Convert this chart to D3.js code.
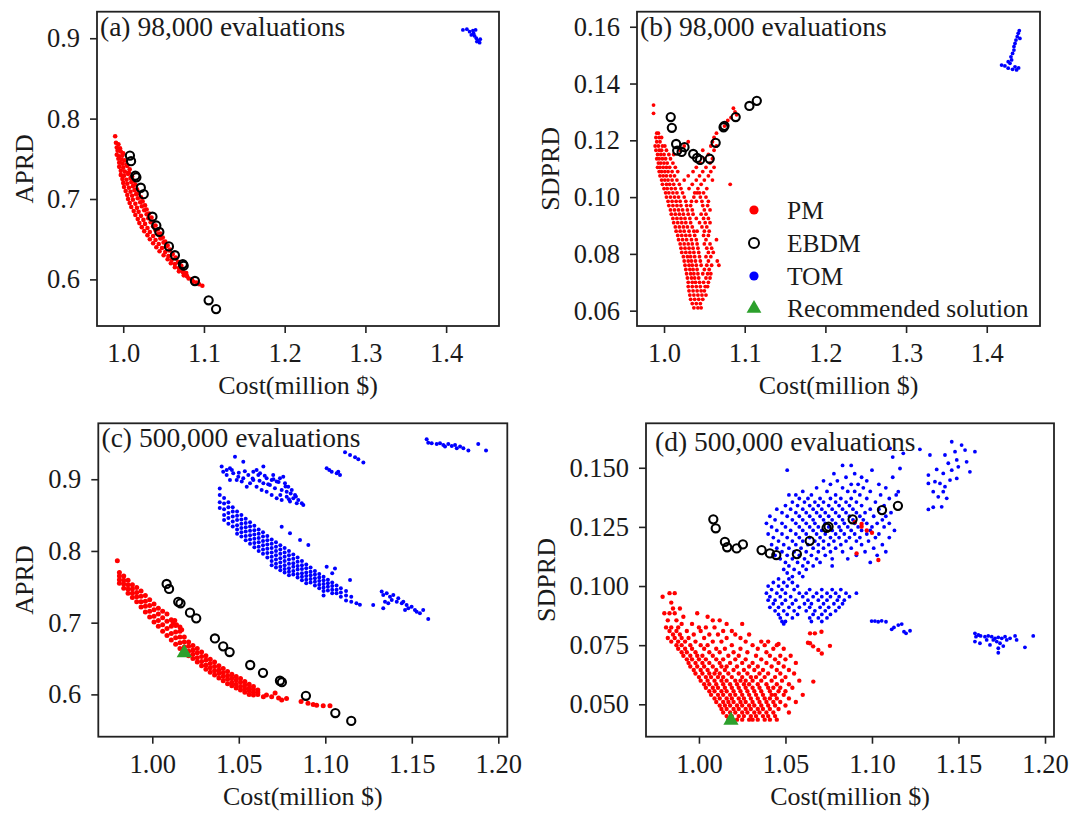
<!DOCTYPE html>
<html>
<head>
<meta charset="utf-8">
<script src="https://cdn.jsdelivr.net/npm/d3@7"></script>
<style>
  body { margin: 0; background: #fff; }
  svg { display: block; }
  text { font-family: "Liberation Serif", "Times New Roman", serif; fill: #1a1a1a; }
</style>
</head>
<body>
<div id="chart"></div>
<script>
// ---------- data ----------

// tick labels
var costTicksTop = [1.0, 1.1, 1.2, 1.3, 1.4];
var costTicksBottom = [1.00, 1.05, 1.10, 1.15, 1.20];
var aprdTicks = [0.6, 0.7, 0.8, 0.9];
var sdprdTicksTop = [0.06, 0.08, 0.10, 0.12, 0.14, 0.16];
var sdprdTicksBottom = [0.050, 0.075, 0.100, 0.125, 0.150];

// EBDM solutions (same set in all panels)
var ebdmCost  = [1.0083, 1.0097, 1.0150, 1.0163, 1.0218, 1.0254, 1.0362, 1.0410, 1.0447, 1.0566, 1.0640, 1.0738, 1.0749, 1.0888, 1.1058, 1.1150];
var ebdmAPRD  = [0.754, 0.747, 0.729, 0.727, 0.714, 0.706, 0.678, 0.667, 0.659, 0.641, 0.630, 0.619, 0.617, 0.598, 0.574, 0.563];
var ebdmSDPRD = [0.1282, 0.1244, 0.1187, 0.1164, 0.1159, 0.1176, 0.1152, 0.1138, 0.1131, 0.1135, 0.1191, 0.1246, 0.1251, 0.1282, 0.1321, 0.1339];

// recommended solution (500,000 evaluations)
var recCost = [1.0185];
var recAPRD = [0.658];
var recSDPRD = [0.0432];

// (a) PM, [cost, APRD]
var pmA = [[0.990,0.778],[0.991,0.770],[0.994,0.768],[0.992,0.764],[0.996,0.763],[0.993,0.760],[0.997,0.759],[1.000,0.757],[0.992,0.755],[0.995,0.753],[0.999,0.754],[0.994,0.750],[0.998,0.749],[1.002,0.748],[0.995,0.745],[0.999,0.744],[1.004,0.743],[0.995,0.740],[1.000,0.739],[1.005,0.741],[1.008,0.737],[0.997,0.735],[1.002,0.734],[1.007,0.733],[0.997,0.730],[1.001,0.729],[1.006,0.731],[1.011,0.728],[0.999,0.725],[1.004,0.724],[1.009,0.726],[1.013,0.722],[1.000,0.720],[1.005,0.719],[1.010,0.721],[1.015,0.718],[1.001,0.715],[1.007,0.714],[1.012,0.716],[1.017,0.712],[1.003,0.710],[1.009,0.709],[1.014,0.711],[1.019,0.707],[1.005,0.705],[1.011,0.704],[1.016,0.706],[1.022,0.702],[1.006,0.700],[1.012,0.699],[1.018,0.701],[1.024,0.697],[1.008,0.695],[1.015,0.694],[1.021,0.696],[1.027,0.692],[1.010,0.690],[1.017,0.689],[1.023,0.691],[1.029,0.687],[1.013,0.685],[1.019,0.684],[1.026,0.686],[1.032,0.682],[1.015,0.680],[1.022,0.679],[1.029,0.681],[1.035,0.677],[1.018,0.675],[1.025,0.674],[1.031,0.676],[1.037,0.672],[1.020,0.670],[1.027,0.669],[1.034,0.671],[1.040,0.667],[1.023,0.665],[1.030,0.664],[1.037,0.666],[1.043,0.662],[1.026,0.660],[1.033,0.659],[1.040,0.661],[1.046,0.657],[1.030,0.655],[1.037,0.654],[1.043,0.656],[1.049,0.652],[1.033,0.650],[1.040,0.649],[1.046,0.651],[1.052,0.647],[1.037,0.645],[1.044,0.644],[1.050,0.646],[1.055,0.642],[1.041,0.640],[1.048,0.639],[1.053,0.641],[1.058,0.637],[1.045,0.635],[1.052,0.634],[1.057,0.636],[1.061,0.632],[1.050,0.630],[1.056,0.629],[1.061,0.631],[1.065,0.627],[1.055,0.625],[1.060,0.624],[1.065,0.626],[1.068,0.622],[1.059,0.620],[1.064,0.619],[1.069,0.621],[1.072,0.617],[1.064,0.615],[1.069,0.614],[1.074,0.613],[1.069,0.610],[1.074,0.609],[1.078,0.608],[1.075,0.605],[1.079,0.604],[1.081,0.601],[1.085,0.600],[1.087,0.597],[1.091,0.596],[1.094,0.594],[1.098,0.592]];

// (a) TOM, [cost, APRD]
var tomA = [[1.4208,0.9103],[1.4257,0.9112],[1.4291,0.9082],[1.4332,0.9095],[1.4365,0.9103],[1.4312,0.9041],[1.4353,0.9029],[1.4374,0.9000],[1.4394,0.8970],[1.4415,0.8945],[1.4381,0.8958],[1.4423,0.8988],[1.4340,0.9062]];

// (b) PM, rows: [SDPRD, cost, cost, ...]
var pmBRows = [
  [0.1324, 0.987],
  [0.1295, 0.987],
  [0.1225, 0.991, 0.993, 1.065],
  [0.1210, 0.990, 0.994, 0.997, 1.062],
  [0.1195, 0.991, 0.995, 1.030, 1.060],
  [0.1180, 0.989, 0.993, 0.998, 1.001, 1.025, 1.058, 1.065],
  [0.1165, 0.990, 0.994, 0.997, 1.003, 1.020, 1.048, 1.062],
  [0.1150, 0.992, 0.996, 1.000, 1.006, 1.012, 1.055],
  [0.1135, 0.991, 0.994, 0.998, 1.002, 1.008, 1.050, 1.060],
  [0.1120, 0.993, 0.996, 1.000, 1.004, 1.011, 1.045, 1.057],
  [0.1105, 0.992, 0.995, 0.999, 1.003, 1.007, 1.014, 1.040, 1.052, 1.062],
  [0.1090, 0.994, 0.997, 1.001, 1.005, 1.010, 1.017, 1.036, 1.048, 1.058],
  [0.1075, 0.995, 0.999, 1.003, 1.008, 1.013, 1.030, 1.044, 1.055],
  [0.1060, 0.997, 1.001, 1.005, 1.010, 1.016, 1.025, 1.040, 1.050, 1.060],
  [0.1045, 0.998, 1.003, 1.007, 1.012, 1.019, 1.035, 1.046, 1.082],
  [0.1030, 1.000, 1.004, 1.009, 1.014, 1.021, 1.031, 1.042, 1.053],
  [0.1015, 1.002, 1.006, 1.011, 1.016, 1.023, 1.038, 1.041, 1.044, 1.049],
  [0.1000, 1.003, 1.008, 1.013, 1.018, 1.025, 1.037, 1.045, 1.052],
  [0.0985, 1.005, 1.010, 1.015, 1.020, 1.027, 1.034, 1.040, 1.047, 1.055],
  [0.0970, 1.006, 1.011, 1.016, 1.021, 1.028, 1.033, 1.048, 1.054],
  [0.0955, 1.008, 1.013, 1.018, 1.023, 1.029, 1.035, 1.050, 1.057],
  [0.0940, 1.009, 1.014, 1.019, 1.024, 1.030, 1.036, 1.046, 1.052],
  [0.0925, 1.011, 1.016, 1.021, 1.026, 1.032, 1.040, 1.049, 1.055],
  [0.0910, 1.012, 1.017, 1.022, 1.027, 1.033, 1.044, 1.051, 1.057],
  [0.0895, 1.014, 1.019, 1.024, 1.029, 1.035, 1.047, 1.053],
  [0.0880, 1.015, 1.020, 1.025, 1.031, 1.037, 1.041, 1.050, 1.056],
  [0.0865, 1.017, 1.022, 1.027, 1.032, 1.038, 1.049, 1.055],
  [0.0850, 1.018, 1.023, 1.028, 1.034, 1.040, 1.052, 1.065],
  [0.0835, 1.020, 1.025, 1.030, 1.035, 1.041, 1.050, 1.057],
  [0.0820, 1.021, 1.026, 1.031, 1.036, 1.042, 1.053, 1.059],
  [0.0805, 1.022, 1.027, 1.032, 1.037, 1.043, 1.055, 1.061],
  [0.0790, 1.024, 1.029, 1.033, 1.038, 1.044, 1.052, 1.058],
  [0.0775, 1.025, 1.030, 1.034, 1.039, 1.045, 1.055, 1.066],
  [0.0760, 1.026, 1.031, 1.035, 1.040, 1.046, 1.053, 1.059, 1.068],
  [0.0745, 1.027, 1.032, 1.036, 1.041, 1.050, 1.056],
  [0.0730, 1.028, 1.033, 1.037, 1.042, 1.048, 1.054, 1.058],
  [0.0715, 1.029, 1.034, 1.038, 1.043, 1.052, 1.057],
  [0.0700, 1.030, 1.035, 1.039, 1.044, 1.049, 1.055],
  [0.0685, 1.030, 1.035, 1.040, 1.045, 1.051, 1.054],
  [0.0670, 1.031, 1.036, 1.041, 1.046, 1.050],
  [0.0655, 1.032, 1.037, 1.042, 1.047, 1.052],
  [0.0640, 1.033, 1.038, 1.043, 1.048],
  [0.0625, 1.035, 1.040, 1.045],
  [0.0610, 1.037, 1.042, 1.046]
];
var pmBExtra = [[1.086,0.1313],[1.088,0.1300],[1.083,0.1280],[1.090,0.1290],[1.079,0.1270],[1.075,0.1250]];

// (b) TOM, [cost, SDPRD]
var tomB = [[1.4184,0.1465],[1.4225,0.1462],[1.4266,0.1454],[1.4288,0.1471],[1.4308,0.1483],[1.4300,0.1494],[1.4320,0.1506],[1.4337,0.1518],[1.4337,0.1530],[1.4350,0.1541],[1.4362,0.1553],[1.4378,0.1565],[1.4390,0.1577],[1.4403,0.1586],[1.4411,0.1559],[1.4370,0.1448],[1.4350,0.1459],[1.4266,0.1477],[1.4320,0.1450],[1.4395,0.1455]];

// (c) PM, columns: [cost, APRD, APRD, ...]
var pmCCols = [
  [0.981, 0.755, 0.760, 0.765, 0.770],
  [0.9835, 0.748, 0.754, 0.759, 0.765],
  [0.986, 0.741, 0.747, 0.753, 0.759],
  [0.9885, 0.735, 0.741, 0.747, 0.753],
  [0.991, 0.729, 0.736, 0.742, 0.749],
  [0.9935, 0.722, 0.729, 0.737, 0.744],
  [0.996, 0.715, 0.723, 0.730, 0.738],
  [0.9985, 0.708, 0.716, 0.724, 0.732],
  [1.001, 0.701, 0.709, 0.718, 0.726],
  [1.0035, 0.695, 0.703, 0.712, 0.720],
  [1.006, 0.688, 0.697, 0.707, 0.716],
  [1.0085, 0.682, 0.692, 0.702, 0.712],
  [1.011, 0.676, 0.685, 0.695, 0.704],
  [1.0135, 0.670, 0.679, 0.687, 0.696],
  [1.016, 0.664, 0.672, 0.680, 0.688],
  [1.0185, 0.659, 0.666, 0.673, 0.680],
  [1.021, 0.654, 0.660, 0.667, 0.673],
  [1.0235, 0.650, 0.656, 0.662, 0.668],
  [1.026, 0.645, 0.651, 0.658, 0.664],
  [1.0285, 0.640, 0.646, 0.653, 0.659],
  [1.031, 0.635, 0.641, 0.648, 0.654],
  [1.0335, 0.631, 0.637, 0.643, 0.649],
  [1.036, 0.627, 0.633, 0.639, 0.645],
  [1.0385, 0.623, 0.629, 0.634, 0.640],
  [1.041, 0.619, 0.625, 0.630, 0.636],
  [1.0435, 0.615, 0.621, 0.626, 0.632],
  [1.046, 0.612, 0.617, 0.623, 0.628],
  [1.0485, 0.609, 0.614, 0.620, 0.625],
  [1.051, 0.606, 0.611, 0.617, 0.622],
  [1.0535, 0.603, 0.608, 0.613, 0.618],
  [1.056, 0.600, 0.605, 0.609, 0.614],
  [1.0585, 0.599, 0.603, 0.607, 0.611],
  [1.061, 0.600, 0.603, 0.606]
];
var pmCExtra = [[0.9798,0.7865],[1.012,0.700],[1.014,0.697],[1.016,0.694],[1.017,0.690],[1.013,0.703],[1.0642,0.5968],[1.066,0.599],[1.069,0.5968],[1.071,0.602],[1.0748,0.5921],[1.0776,0.5944],[1.073,0.595],[1.086,0.590],[1.090,0.5875],[1.093,0.586],[1.095,0.585],[1.0988,0.584],[1.1027,0.584]];

// (c) TOM main band, columns: [cost, APRD, APRD, ...]
var tomCCols = [
  [1.039, 0.887, 0.878, 0.868, 0.860],
  [1.0415, 0.874, 0.866, 0.858, 0.850, 0.843],
  [1.044, 0.868, 0.861, 0.853, 0.846, 0.838],
  [1.0465, 0.861, 0.855, 0.848, 0.841, 0.834],
  [1.049, 0.855, 0.849, 0.843, 0.836, 0.830, 0.824],
  [1.0515, 0.850, 0.844, 0.838, 0.832, 0.826, 0.820],
  [1.054, 0.845, 0.839, 0.833, 0.827, 0.821, 0.815],
  [1.0565, 0.840, 0.834, 0.828, 0.822, 0.816, 0.810],
  [1.059, 0.835, 0.829, 0.823, 0.817, 0.811, 0.805],
  [1.0615, 0.830, 0.824, 0.818, 0.812, 0.806, 0.800],
  [1.064, 0.826, 0.820, 0.814, 0.808, 0.802, 0.796],
  [1.0665, 0.821, 0.815, 0.809, 0.803, 0.797, 0.791],
  [1.069, 0.816, 0.810, 0.804, 0.798, 0.792, 0.786, 0.780],
  [1.0715, 0.812, 0.806, 0.800, 0.794, 0.788, 0.782, 0.777],
  [1.074, 0.808, 0.802, 0.796, 0.790, 0.784, 0.778, 0.773],
  [1.0765, 0.804, 0.798, 0.792, 0.786, 0.780, 0.775, 0.770],
  [1.079, 0.800, 0.794, 0.788, 0.782, 0.776, 0.771, 0.766],
  [1.0815, 0.795, 0.789, 0.783, 0.778, 0.772, 0.767],
  [1.084, 0.791, 0.785, 0.779, 0.774, 0.768, 0.763],
  [1.0865, 0.786, 0.780, 0.775, 0.769, 0.764, 0.759],
  [1.089, 0.781, 0.776, 0.770, 0.765, 0.760, 0.755],
  [1.0915, 0.777, 0.771, 0.766, 0.761, 0.756],
  [1.094, 0.772, 0.767, 0.762, 0.757, 0.752],
  [1.0965, 0.768, 0.763, 0.758, 0.753, 0.748],
  [1.099, 0.764, 0.759, 0.754, 0.749, 0.744, 0.738],
  [1.1015, 0.760, 0.755, 0.750, 0.745],
  [1.104, 0.756, 0.751, 0.746, 0.741],
  [1.1065, 0.752, 0.746, 0.741],
  [1.109, 0.748, 0.742, 0.736],
  [1.112, 0.744, 0.738, 0.731],
  [1.115, 0.736, 0.729],
  [1.118, 0.727],
  [1.120, 0.725]
];
// (c) TOM other groups, [cost, APRD]
var tomCPts = [
  [1.0478,0.9315],[1.0526,0.9245],[1.0401,0.9176],[1.0430,0.9130],[1.0449,0.9153],[1.0468,0.9084],[1.0497,0.9036],[1.0526,0.9014],[1.0555,0.9060],[1.0584,0.8990],[1.0603,0.9130],[1.0623,0.9084],[1.0642,0.9176],[1.0661,0.9014],[1.0690,0.8990],[1.0719,0.8967],[1.0738,0.9014],[1.0767,0.8944],[1.0786,0.8897],[1.0806,0.8851],[1.0825,0.8781],[1.0844,0.8711],[1.0864,0.8665],[1.0603,0.8897],[1.0632,0.8851],[1.0661,0.8827],[1.0690,0.8781],[1.0719,0.8735],[1.0748,0.8711],[1.0777,0.8757],[1.0796,0.8688],[1.0565,0.8944],[1.0546,0.8897],[1.0517,0.8967],[1.0488,0.8990],[1.0642,0.8944],[1.0680,0.8920],[1.0709,0.8874],[1.0748,0.8851],[1.0777,0.8827],[1.0815,0.8735],[1.0835,0.8665],[1.0757,0.9036],[1.0699,0.9060],[1.0613,0.9060],[1.0584,0.9106],[1.0430,0.9060],[1.0449,0.8990],[1.0410,0.9106],[1.0873,0.8642],[1.0535,0.9110],[1.0650,0.9050],[1.0700,0.9000],[1.0730,0.8960],[1.0770,0.8900],[1.0800,0.8800],[1.0830,0.8760],[1.0460,0.9130],[1.0500,0.9090],[1.0580,0.9010],[1.0620,0.8980],[1.0670,0.8930],[1.0740,0.8780],[1.0790,0.8720],
  [1.0748,0.8339],[1.0796,0.8247],[1.0854,0.8153],[1.0902,0.8084],[1.1008,0.7781],[1.1056,0.7757],[1.1143,0.7596],[1.1040,0.7690],
  [1.1114,0.9377],[1.1143,0.9339],[1.1172,0.9307],[1.1191,0.9279],[1.1220,0.9232],
  [1.1008,0.9153],[1.1023,0.9130],[1.1037,0.9106],[1.1066,0.9084],[1.1085,0.9060],[1.1075,0.9106],
  [1.1277,0.7247],[1.1326,0.7433],[1.1335,0.7386],[1.1345,0.7293],[1.1355,0.7410],[1.1374,0.7363],[1.1384,0.7317],[1.1393,0.7386],[1.1413,0.7293],[1.1422,0.7340],[1.1442,0.7270],[1.1451,0.7293],[1.1470,0.7247],[1.1480,0.7201],[1.1499,0.7223],[1.1518,0.7177],[1.1528,0.7153],[1.1547,0.7131],[1.1566,0.7177],[1.1595,0.7052],[1.1335,0.7201],[1.1364,0.7270],[1.1461,0.7177],
  [1.1586,0.9558],[1.1595,0.9510],[1.1615,0.9502],[1.1644,0.9492],[1.1663,0.9502],[1.1682,0.9478],[1.1692,0.9455],[1.1711,0.9492],[1.1731,0.9464],[1.1750,0.9478],[1.1760,0.9432],[1.1779,0.9455],[1.1798,0.9432],[1.1827,0.9399],[1.1884,0.9492],[1.1929,0.9399]
];

// (d) PM, rows: [SDPRD, cost, cost, ...]
var pmDRows = [
  [0.0970, 0.983, 0.986],
  [0.0955, 0.979],
  [0.0930, 0.984],
  [0.0905, 0.985, 0.989],
  [0.0885, 0.980, 0.983, 0.986, 0.999],
  [0.0870, 0.991, 1.005],
  [0.0855, 0.982, 0.987, 1.008, 1.012],
  [0.0840, 0.990, 0.996, 1.016, 1.025],
  [0.0825, 0.981, 0.984, 0.988, 1.000, 1.004, 1.009],
  [0.0810, 0.983, 0.987, 0.993, 1.001, 1.014, 1.019],
  [0.0795, 0.985, 0.989, 0.997, 1.006, 1.011, 1.021, 1.029],
  [0.0780, 0.982, 0.986, 0.990, 0.994, 1.003, 1.016, 1.024],
  [0.0765, 0.984, 0.988, 0.992, 0.998, 1.008, 1.013, 1.027, 1.036, 1.040],
  [0.0750, 0.987, 0.990, 0.995, 1.001, 1.005, 1.019, 1.031, 1.038, 1.045],
  [0.0735, 0.988, 0.992, 0.996, 1.003, 1.010, 1.015, 1.024, 1.034, 1.043, 1.049],
  [0.0720, 0.990, 0.993, 0.998, 1.006, 1.012, 1.020, 1.028, 1.039],
  [0.0705, 0.991, 0.995, 0.999, 1.002, 1.008, 1.017, 1.023, 1.033, 1.041, 1.047, 1.053],
  [0.0690, 0.993, 0.996, 1.000, 1.004, 1.010, 1.014, 1.021, 1.027, 1.036, 1.044, 1.050],
  [0.0675, 0.994, 0.998, 1.002, 1.006, 1.012, 1.018, 1.025, 1.031, 1.039, 1.046, 1.056],
  [0.0660, 0.995, 0.999, 1.003, 1.008, 1.013, 1.016, 1.022, 1.029, 1.034, 1.042, 1.049],
  [0.0645, 0.997, 1.001, 1.005, 1.010, 1.015, 1.020, 1.026, 1.032, 1.037, 1.045, 1.052],
  [0.0630, 0.998, 1.002, 1.006, 1.009, 1.012, 1.017, 1.023, 1.028, 1.035, 1.040, 1.047, 1.055],
  [0.0615, 1.000, 1.004, 1.007, 1.011, 1.014, 1.019, 1.025, 1.030, 1.033, 1.038, 1.044, 1.050],
  [0.0600, 1.001, 1.005, 1.009, 1.013, 1.016, 1.021, 1.024, 1.027, 1.031, 1.036, 1.042, 1.048, 1.058],
  [0.0585, 1.003, 1.006, 1.010, 1.014, 1.018, 1.022, 1.026, 1.029, 1.034, 1.039, 1.045, 1.052],
  [0.0570, 1.004, 1.008, 1.011, 1.015, 1.019, 1.023, 1.027, 1.031, 1.035, 1.040, 1.043, 1.047, 1.054],
  [0.0555, 1.006, 1.009, 1.013, 1.016, 1.020, 1.024, 1.028, 1.032, 1.036, 1.041, 1.046, 1.050],
  [0.0540, 1.007, 1.011, 1.014, 1.018, 1.021, 1.025, 1.029, 1.033, 1.037, 1.042, 1.044, 1.049, 1.060],
  [0.0525, 1.009, 1.012, 1.016, 1.019, 1.023, 1.026, 1.030, 1.034, 1.038, 1.041, 1.045, 1.052],
  [0.0510, 1.010, 1.014, 1.017, 1.020, 1.024, 1.027, 1.031, 1.035, 1.039, 1.043, 1.047, 1.056],
  [0.0495, 1.012, 1.015, 1.018, 1.022, 1.025, 1.029, 1.032, 1.036, 1.040, 1.044, 1.050],
  [0.0480, 1.013, 1.016, 1.020, 1.023, 1.027, 1.030, 1.034, 1.037, 1.041, 1.046],
  [0.0465, 1.014, 1.018, 1.021, 1.025, 1.028, 1.032, 1.035, 1.039, 1.043, 1.052],
  [0.0450, 1.016, 1.019, 1.023, 1.026, 1.030, 1.033, 1.037, 1.040, 1.044],
  [0.0435, 1.017, 1.022, 1.025, 1.029, 1.031, 1.034, 1.038, 1.041, 1.045]
];
var pmDExtra = [[1.0642,0.0800],[1.0670,0.0800],[1.0708,0.0807],[1.0642,0.0758],[1.0660,0.0745],[1.0690,0.0730],[1.0710,0.0715],[1.0757,0.0747],[1.0661,0.0596],[1.0460,0.0755],[1.0630,0.0760],[1.0940,0.1251],[1.0970,0.1235],[1.1000,0.1225],[1.0911,0.1138],[1.1037,0.1110],[1.0900,0.1270],[1.0940,0.1262]];

// (d) TOM main cloud + lower cluster, rows: [SDPRD, cost, cost, ...]
var tomDRows = [
  [0.1510, 1.083, 1.088],
  [0.1490, 1.051, 1.100],
  [0.1475, 1.078, 1.090],
  [0.1460, 1.085, 1.094, 1.112],
  [0.1445, 1.072, 1.080, 1.097],
  [0.1430, 1.076, 1.088, 1.092, 1.104],
  [0.1415, 1.068, 1.083, 1.095, 1.108],
  [0.1400, 1.060, 1.074, 1.086, 1.090, 1.099],
  [0.1385, 1.052, 1.056, 1.065, 1.079, 1.093, 1.105, 1.114],
  [0.1370, 1.058, 1.063, 1.070, 1.076, 1.082, 1.088, 1.097, 1.110],
  [0.1355, 1.054, 1.061, 1.067, 1.072, 1.079, 1.085, 1.091, 1.102],
  [0.1340, 1.050, 1.057, 1.064, 1.069, 1.075, 1.081, 1.087, 1.094, 1.107],
  [0.1325, 1.045, 1.053, 1.060, 1.066, 1.071, 1.077, 1.083, 1.089, 1.099, 1.104],
  [0.1310, 1.048, 1.056, 1.062, 1.068, 1.073, 1.079, 1.085, 1.091, 1.096, 1.111],
  [0.1295, 1.041, 1.051, 1.058, 1.064, 1.070, 1.075, 1.081, 1.087, 1.093, 1.101, 1.108],
  [0.1280, 1.044, 1.054, 1.060, 1.066, 1.072, 1.077, 1.083, 1.089, 1.095, 1.106],
  [0.1265, 1.039, 1.048, 1.056, 1.062, 1.067, 1.073, 1.079, 1.084, 1.090, 1.097, 1.103, 1.110],
  [0.1250, 1.042, 1.050, 1.058, 1.064, 1.069, 1.075, 1.081, 1.086, 1.092, 1.100, 1.107],
  [0.1235, 1.045, 1.053, 1.060, 1.066, 1.071, 1.077, 1.082, 1.088, 1.094, 1.099, 1.113],
  [0.1220, 1.040, 1.048, 1.056, 1.062, 1.068, 1.073, 1.079, 1.084, 1.090, 1.097, 1.104],
  [0.1205, 1.043, 1.051, 1.058, 1.064, 1.070, 1.076, 1.081, 1.087, 1.093, 1.102, 1.110],
  [0.1190, 1.046, 1.054, 1.060, 1.067, 1.072, 1.078, 1.085, 1.091, 1.098],
  [0.1175, 1.042, 1.049, 1.056, 1.063, 1.069, 1.075, 1.082, 1.094, 1.106],
  [0.1160, 1.045, 1.052, 1.059, 1.066, 1.072, 1.079, 1.088, 1.101],
  [0.1145, 1.048, 1.055, 1.062, 1.069, 1.076, 1.083, 1.096, 1.108],
  [0.1130, 1.044, 1.051, 1.058, 1.065, 1.073, 1.091, 1.103],
  [0.1115, 1.047, 1.054, 1.061, 1.068, 1.077, 1.086],
  [0.1100, 1.050, 1.057, 1.063, 1.070, 1.099],
  [0.1085, 1.052, 1.060, 1.066, 1.077],
  [0.1070, 1.049, 1.055, 1.062],
  [0.1055, 1.051, 1.058],
  [0.1040, 1.054, 1.060],
  [0.1030, 1.046, 1.052],
  [0.1015, 1.043, 1.049, 1.054],
  [0.1000, 1.040, 1.046, 1.051, 1.057],
  [0.0985, 1.042, 1.048, 1.055, 1.064, 1.071, 1.077, 1.082],
  [0.0970, 1.039, 1.045, 1.050, 1.058, 1.062, 1.068, 1.074, 1.079, 1.085, 1.091],
  [0.0955, 1.041, 1.047, 1.053, 1.060, 1.066, 1.071, 1.076, 1.081, 1.087],
  [0.0940, 1.040, 1.044, 1.050, 1.056, 1.063, 1.069, 1.074, 1.080, 1.084],
  [0.0925, 1.043, 1.048, 1.054, 1.061, 1.065, 1.072, 1.078, 1.083],
  [0.0910, 1.041, 1.046, 1.052, 1.058, 1.064, 1.070, 1.075, 1.081],
  [0.0895, 1.044, 1.049, 1.055, 1.062, 1.067, 1.073, 1.079],
  [0.0880, 1.046, 1.051, 1.057, 1.066, 1.071, 1.076],
  [0.0865, 1.047, 1.054, 1.064, 1.069, 1.074],
  [0.0850, 1.048, 1.050, 1.065, 1.071],
  [0.0840, 1.049]
];
// (d) TOM other groups, [cost, SDPRD]
var tomDPts = [
  [1.1277,0.1578],[1.1335,0.1554],[1.1422,0.1554],[1.1461,0.1610],[1.1480,0.1568],[1.1518,0.1596],[1.1538,0.1575],[1.1595,0.1568],[1.1490,0.1533],[1.1441,0.1519],[1.1499,0.1504],[1.1547,0.1525],[1.1566,0.1483],[1.1461,0.1490],[1.1412,0.1476],[1.1374,0.1493],[1.1326,0.1469],[1.1364,0.1441],[1.1393,0.1434],[1.1422,0.1420],[1.1451,0.1448],[1.1490,0.1455],[1.1326,0.1434],[1.1354,0.1399],[1.1383,0.1377],[1.1412,0.1399],[1.1432,0.1371],[1.1326,0.1324],[1.1354,0.1333],[1.1403,0.1335],[1.1120,0.1545],[1.1181,0.1561],[1.1104,0.1582],[1.1162,0.1497],[1.1152,0.1399],
  [1.1595,0.0800],[1.1601,0.0786],[1.1615,0.0793],[1.1628,0.0789],[1.1653,0.0786],[1.1672,0.0789],[1.1692,0.0786],[1.1711,0.0779],[1.1730,0.0783],[1.1750,0.0779],[1.1769,0.0786],[1.1721,0.0765],[1.1740,0.0758],[1.1701,0.0772],[1.1663,0.0772],[1.1595,0.0765],[1.1624,0.0758],[1.1682,0.0751],[1.1730,0.0737],[1.1730,0.0718],[1.1759,0.0746],[1.1779,0.0772],[1.1827,0.0789],[1.1836,0.0772],[1.1884,0.0741],[1.1932,0.0789],[1.1798,0.0779],
  [1.0998,0.0852],[1.1017,0.0852],[1.1036,0.0849],[1.1056,0.0853],[1.1081,0.0849],[1.1114,0.0817],[1.1127,0.0825],[1.1152,0.0835],[1.1172,0.0839],[1.1185,0.0807],[1.1197,0.0800],[1.1220,0.0811]
];

// ---------- helpers ----------
function fromRows(rows) {
  // rows of [value, cost, cost, ...] -> [cost, value]
  var out = [];
  rows.forEach(function(r) { for (var i = 1; i < r.length; i++) out.push([r[i], r[0]]); });
  return out;
}
function fromCols(cols) {
  // cols of [cost, value, value, ...] -> [cost, value]
  var out = [];
  cols.forEach(function(c) { for (var i = 1; i < c.length; i++) out.push([c[0], c[i]]); });
  return out;
}
function zip(a, b) { return a.map(function(d, i) { return [d, b[i]]; }); }

var RED = "#ff0000", BLUE = "#0000ff", GREEN = "#2ca02c";

// ---------- layout ----------
var width = 1071;
var height = 813;

var svg = d3.select("#chart").append("svg")
    .attr("width", width)
    .attr("height", height);

var panels = [
  { box: [97, 11.7, 499, 326], xd: [0.9675, 1.4655], yd: [0.542, 0.933],
    xt: costTicksTop, yt: aprdTicks, xf: ".1f", yf: ".1f",
    ylab: "APRD", ylabX: 33, title: "(a) 98,000 evaluations", tx: 100, ty: 36,
    pm: pmA, tom: tomA, ebdm: zip(ebdmCost, ebdmAPRD), rec: null, rPM: 2.3, rTOM: 1.9 },
  { box: [637, 11.7, 1040, 326], xd: [0.9665, 1.466], yd: [0.0546, 0.1653],
    xt: costTicksTop, yt: sdprdTicksTop, xf: ".1f", yf: ".2f",
    ylab: "SDPRD", ylabX: 559, title: "(b) 98,000 evaluations", tx: 640, ty: 36,
    pm: fromRows(pmBRows).concat(pmBExtra), tom: tomB, ebdm: zip(ebdmCost, ebdmSDPRD), rec: null, legend: true, rPM: 1.9, rTOM: 1.9 },
  { box: [98.3, 423.3, 507.3, 736.7], xd: [0.9688, 1.2052], yd: [0.541, 0.978],
    xt: costTicksBottom, yt: aprdTicks, xf: ".2f", yf: ".1f",
    ylab: "APRD", ylabX: 33, title: "(c) 500,000 evaluations", tx: 101.5, ty: 447,
    pm: fromCols(pmCCols).concat(pmCExtra), tom: fromCols(tomCCols).concat(tomCPts),
    ebdm: zip(ebdmCost, ebdmAPRD), rec: zip(recCost, recAPRD), rPM: 2.5, rTOM: 2.0 },
  { box: [646, 423.3, 1054, 736.7], xd: [0.9694, 1.2052], yd: [0.0363, 0.1688],
    xt: costTicksBottom, yt: sdprdTicksBottom, xf: ".2f", yf: ".3f",
    ylab: "SDPRD", ylabX: 555, title: "(d) 500,000 evaluations", tx: 655, ty: 451,
    pm: fromRows(pmDRows).concat(pmDExtra), tom: fromRows(tomDRows).concat(tomDPts),
    ebdm: zip(ebdmCost, ebdmSDPRD), rec: zip(recCost, recSDPRD), rPM: 2.2, rTOM: 1.9 }
];

var tri = d3.symbol().type(d3.symbolTriangle);

panels.forEach(drawPanel);

function drawPanel(p) {
  var x = d3.scaleLinear().domain(p.xd).range([p.box[0], p.box[2]]);
  var y = d3.scaleLinear().domain(p.yd).range([p.box[3], p.box[1]]);
  var g = svg.append("g");

  // axes
  var xa = g.append("g")
      .attr("transform", "translate(0," + p.box[3] + ")")
      .call(d3.axisBottom(x).tickValues(p.xt).tickFormat(d3.format(p.xf)).tickSize(7).tickPadding(10));
  var ya = g.append("g")
      .attr("transform", "translate(" + p.box[0] + ",0)")
      .call(d3.axisLeft(y).tickValues(p.yt).tickFormat(d3.format(p.yf)).tickSize(7).tickPadding(10));
  [xa, ya].forEach(function(a) {
    a.select(".domain").remove();
    a.selectAll(".tick line").attr("stroke", "#222").attr("stroke-width", 1.6);
    a.selectAll(".tick text").attr("font-size", 26.5)
      .attr("font-family", "'Liberation Serif', 'Times New Roman', serif").attr("fill", "#1a1a1a");
  });

  // axis titles
  g.append("text")
      .attr("x", (p.box[0] + p.box[2]) / 2)
      .attr("y", p.box[3] + 68)
      .attr("text-anchor", "middle")
      .attr("font-size", 26)
      .text("Cost(million $)");
  g.append("text")
      .attr("transform", "translate(" + p.ylabX + "," + (p.box[1] + p.box[3]) / 2 + ") rotate(-90)")
      .attr("text-anchor", "middle")
      .attr("font-size", 26)
      .text(p.ylab);

  // points: TOM, PM, EBDM, recommended
  g.append("g").selectAll("circle").data(p.tom).enter().append("circle")
      .attr("cx", function(d) { return x(d[0]); })
      .attr("cy", function(d) { return y(d[1]); })
      .attr("r", p.rTOM)
      .attr("fill", BLUE);

  g.append("g").selectAll("circle").data(p.pm).enter().append("circle")
      .attr("cx", function(d) { return x(d[0]); })
      .attr("cy", function(d) { return y(d[1]); })
      .attr("r", p.rPM)
      .attr("fill", RED);

  g.append("g").selectAll("circle").data(p.ebdm).enter().append("circle")
      .attr("cx", function(d) { return x(d[0]); })
      .attr("cy", function(d) { return y(d[1]); })
      .attr("r", 4.1)
      .attr("fill", "none")
      .attr("stroke", "#000")
      .attr("stroke-width", 2.1);

  if (p.rec) {
    g.append("g").selectAll("path").data(p.rec).enter().append("path")
        .attr("d", tri.size(100))
        .attr("transform", function(d) { return "translate(" + x(d[0]) + "," + y(d[1]) + ")"; })
        .attr("fill", GREEN);
  }

  // frame
  g.append("rect")
      .attr("x", p.box[0]).attr("y", p.box[1])
      .attr("width", p.box[2] - p.box[0]).attr("height", p.box[3] - p.box[1])
      .attr("fill", "none").attr("stroke", "#222").attr("stroke-width", 1.8);

  // panel title
  g.append("text")
      .attr("x", p.tx).attr("y", p.ty)
      .attr("font-size", 27.5)
      .text(p.title);

  if (p.legend) drawLegend(g);
}

function drawLegend(g) {
  var items = [
    { label: "PM", kind: "pm", cy: 210 },
    { label: "EBDM", kind: "ebdm", cy: 243 },
    { label: "TOM", kind: "tom", cy: 276 },
    { label: "Recommended solution", kind: "rec", cy: 308.5 }
  ];
  var lg = g.append("g");
  items.forEach(function(it) {
    if (it.kind === "pm" || it.kind === "tom") {
      lg.append("circle").attr("cx", 754).attr("cy", it.cy).attr("r", 4.6)
        .attr("fill", it.kind === "pm" ? RED : BLUE);
    } else if (it.kind === "ebdm") {
      lg.append("circle").attr("cx", 754).attr("cy", it.cy).attr("r", 5)
        .attr("fill", "none").attr("stroke", "#000").attr("stroke-width", 2);
    } else {
      lg.append("path").attr("d", tri.size(95))
        .attr("transform", "translate(754," + it.cy + ")")
        .attr("fill", GREEN);
    }
    lg.append("text").attr("x", 787).attr("y", it.cy + 8.5)
      .attr("font-size", 25.5).text(it.label);
  });
}
</script>
</body>
</html>
